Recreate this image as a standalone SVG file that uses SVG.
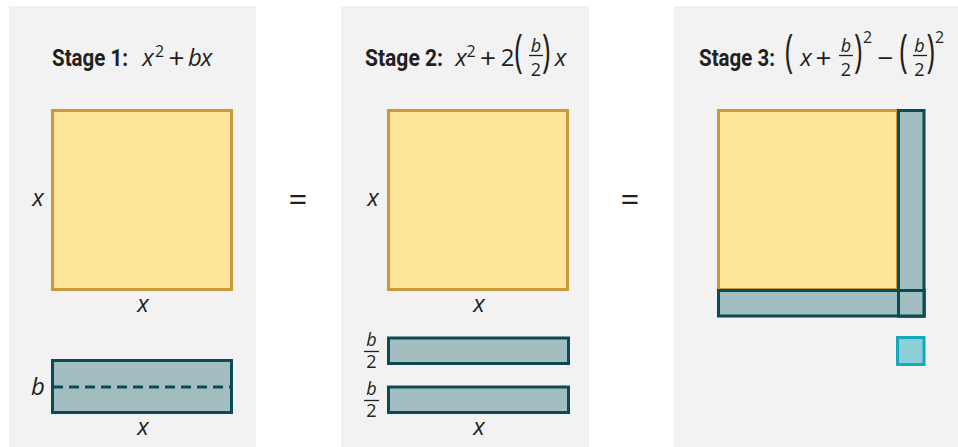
<svg xmlns="http://www.w3.org/2000/svg" width="958" height="447" viewBox="0 0 958 447">
<style>
.panel{fill:#f2f2f2}
.title{font-family:Roboto,"Liberation Sans",sans-serif;font-weight:bold;font-size:23px;fill:#231f20}
.m{font-family:"Open Sans","Noto Sans",sans-serif;font-weight:normal;font-size:24px;fill:#231f20;text-anchor:middle}
.i{font-style:italic}
.sup{font-size:16px}
.fr{font-size:18px}
.par{font-size:28px}
.op{font-size:28px}
.eq{font-size:33px}
.fl{stroke:#231f20;stroke-width:1.3}
.yel{fill:#fde699;stroke:#c9993c;stroke-width:3}
.teal{fill:#a2bec1;stroke:#0c4b55;stroke-width:3}
.cyan{fill:#8dcfd9;stroke:#14aab9;stroke-width:3}
.dash{stroke:#0c4b55;stroke-width:3;stroke-dasharray:10 6;fill:none}
</style>
<rect class="panel" x="9" y="6" width="247" height="441"/>
<rect class="panel" x="341" y="6" width="248" height="441"/>
<rect class="panel" x="674" y="6" width="284" height="441"/>

<g id="stage1">
<text class="title" x="52" y="66" textLength="76" lengthAdjust="spacingAndGlyphs">Stage 1:</text>
<text class="m i" x="148" y="66">x</text>
<text class="m sup" x="159.5" y="57">2</text>
<text class="m op" x="176.5" y="68">+</text>
<text class="m i" x="195" y="66">b</text>
<text class="m i" x="206.5" y="66">x</text>
<rect class="yel" x="52.5" y="110.5" width="179" height="179"/>
<text class="m i" x="38" y="206">x</text>
<text class="m i" x="143" y="312">x</text>
<rect class="teal" x="52.5" y="360.5" width="179" height="52"/>
<line class="dash" x1="53" y1="387" x2="232" y2="387"/>
<text class="m i" x="38" y="395">b</text>
<text class="m i" x="143" y="435">x</text>
</g>

<g id="eq1"><text class="m eq" x="298" y="211">=</text></g>

<g id="stage2">
<text class="title" x="365" y="66" textLength="78" lengthAdjust="spacingAndGlyphs">Stage 2:</text>
<text class="m i" x="461" y="66">x</text>
<text class="m sup" x="471" y="57">2</text>
<text class="m op" x="488" y="68">+</text>
<text class="m" x="507.5" y="66">2</text>
<text class="m par" transform="translate(518.5,67) scale(1,1.65)">(</text>
<text class="m i fr" x="536" y="52">b</text>
<line class="fl" x1="529" y1="55.5" x2="543" y2="55.5"/>
<text class="m fr" x="536" y="76">2</text>
<text class="m par" transform="translate(546,67) scale(1,1.65)">)</text>
<text class="m i" x="560.5" y="66">x</text>
<rect class="yel" x="388.5" y="110.5" width="179" height="179"/>
<text class="m i" x="373" y="206">x</text>
<text class="m i" x="479" y="312">x</text>
<rect class="teal" x="388.5" y="338" width="180" height="25.5"/>
<rect class="teal" x="388.5" y="387" width="180" height="25.5"/>
<text class="m i fr" x="371.5" y="346">b</text>
<line class="fl" x1="364" y1="351.5" x2="379" y2="351.5"/>
<text class="m fr" x="371.5" y="368">2</text>
<text class="m i fr" x="371.5" y="395">b</text>
<line class="fl" x1="364" y1="400.5" x2="379" y2="400.5"/>
<text class="m fr" x="371.5" y="417">2</text>
<text class="m i" x="479" y="435">x</text>
</g>

<g id="eq2"><text class="m eq" x="630" y="211">=</text></g>

<g id="stage3">
<text class="title" x="699" y="66" textLength="76" lengthAdjust="spacingAndGlyphs">Stage 3:</text>
<text class="m par" transform="translate(789,67) scale(1,1.65)">(</text>
<text class="m i" x="806" y="66">x</text>
<text class="m op" x="823.5" y="68">+</text>
<text class="m i fr" x="846" y="52">b</text>
<line class="fl" x1="839" y1="55.5" x2="853" y2="55.5"/>
<text class="m fr" x="846" y="76">2</text>
<text class="m par" transform="translate(858,67) scale(1,1.65)">)</text>
<text class="m sup" x="867.5" y="43">2</text>
<text class="m op" x="885.5" y="68">−</text>
<text class="m par" transform="translate(903.5,67) scale(1,1.65)">(</text>
<text class="m i fr" x="919.5" y="52">b</text>
<line class="fl" x1="913" y1="55.5" x2="927" y2="55.5"/>
<text class="m fr" x="919.5" y="76">2</text>
<text class="m par" transform="translate(930.5,67) scale(1,1.65)">)</text>
<text class="m sup" x="939.5" y="43">2</text>
<rect class="yel" x="718.5" y="110.5" width="179" height="179"/>
<rect class="teal" x="718.5" y="290.5" width="205.5" height="25.5"/>
<rect class="teal" x="898.5" y="110.5" width="25.5" height="205.5"/>
<rect class="teal" x="898.5" y="290.5" width="25.5" height="25.5"/>
<rect class="cyan" x="897.5" y="337.5" width="26.5" height="27"/>
</g>
</svg>
